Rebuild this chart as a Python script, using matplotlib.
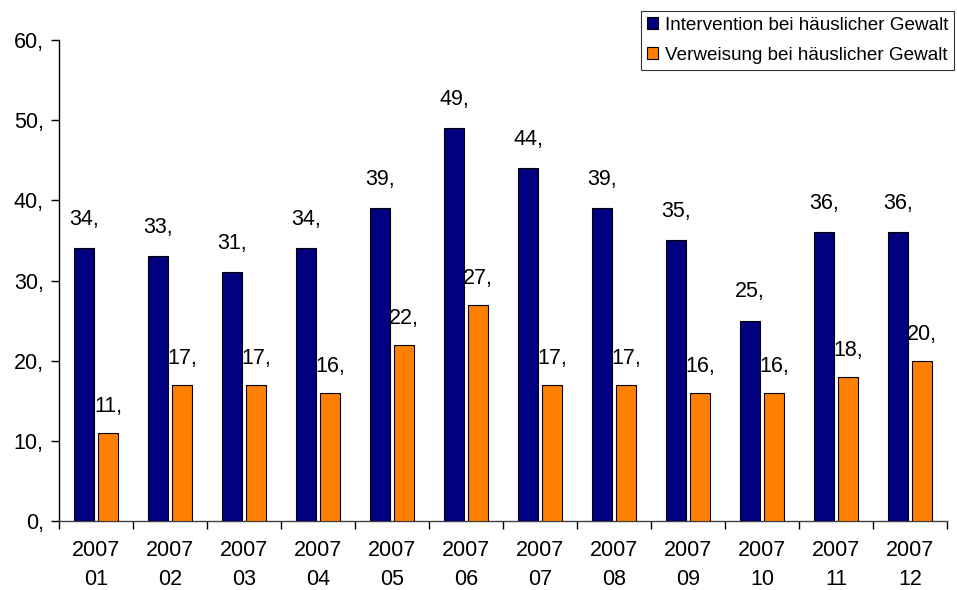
import matplotlib
matplotlib.use("Agg")
import matplotlib.pyplot as plt
import numpy as np
from matplotlib.ticker import FixedLocator, NullFormatter

categories = ["2007\n01", "2007\n02", "2007\n03", "2007\n04", "2007\n05", "2007\n06",
              "2007\n07", "2007\n08", "2007\n09", "2007\n10", "2007\n11", "2007\n12"]
intervention = [34, 33, 31, 34, 39, 49, 44, 39, 35, 25, 36, 36]
verweisung = [11, 17, 17, 16, 22, 27, 17, 17, 16, 16, 18, 20]
series_names = ["Intervention bei häuslicher Gewalt", "Verweisung bei häuslicher Gewalt"]
yticks = [0, 10, 20, 30, 40, 50, 60]

plt.rcParams['font.family'] = ['Liberation Sans', 'DejaVu Sans']

fig = plt.figure(figsize=(9.57, 5.90), dpi=100)
ax = fig.add_axes([59/957, 1-521/590, (947-59)/957, (521-40)/590])

x = np.arange(len(categories))
w = 0.27
off = 0.162
b1 = ax.bar(x - off, intervention, w, color="#000080", edgecolor="black", linewidth=0.8,
            label=series_names[0], zorder=3)
b2 = ax.bar(x + off, verweisung, w, color="#FF8000", edgecolor="black", linewidth=0.8,
            label=series_names[1], zorder=3)

for xi, v in zip(x - off, intervention):
    ax.annotate(f"{v},", (xi, v), xytext=(0, 21), textcoords="offset points",
                ha="center", va="center", fontsize=15.5)
for xi, v in zip(x + off, verweisung):
    ax.annotate(f"{v},", (xi, v), xytext=(0, 19), textcoords="offset points",
                ha="center", va="center", fontsize=15.5)

ax.set_xlim(-0.5, len(categories) - 0.5)
ax.set_ylim(0, 60)
ax.set_yticks(yticks)
ax.set_yticklabels([f"{t}," for t in yticks], fontsize=15.5)
ax.set_xticks(x)
ax.set_xticklabels(categories, fontsize=15.5, linespacing=1.5)
ax.tick_params(axis='x', which='major', length=0, pad=14)
ax.xaxis.set_minor_locator(FixedLocator(np.arange(-0.5, len(categories) + 0.5, 1)))
ax.xaxis.set_minor_formatter(NullFormatter())
ax.tick_params(axis='x', which='minor', length=6, width=1, direction='out')
ax.tick_params(axis='y', length=6, width=1, direction='out', pad=5)

for s in ["top", "right"]:
    ax.spines[s].set_visible(False)
ax.spines["left"].set_linewidth(1)
ax.spines["bottom"].set_linewidth(1)
ax.spines["bottom"].set_color("#404040")

leg = fig.legend(handles=[b1, b2], loc="upper left", bbox_to_anchor=(641/957, 1-11/590),
                 bbox_transform=fig.transFigure, fontsize=13.6, frameon=True,
                 fancybox=False, edgecolor="black", handlelength=0.62, handleheight=0.62,
                 handletextpad=0.35, borderpad=0.3, labelspacing=0.7, borderaxespad=0)
leg.get_frame().set_linewidth(0.8)

fig.savefig("out.png", dpi=100)
